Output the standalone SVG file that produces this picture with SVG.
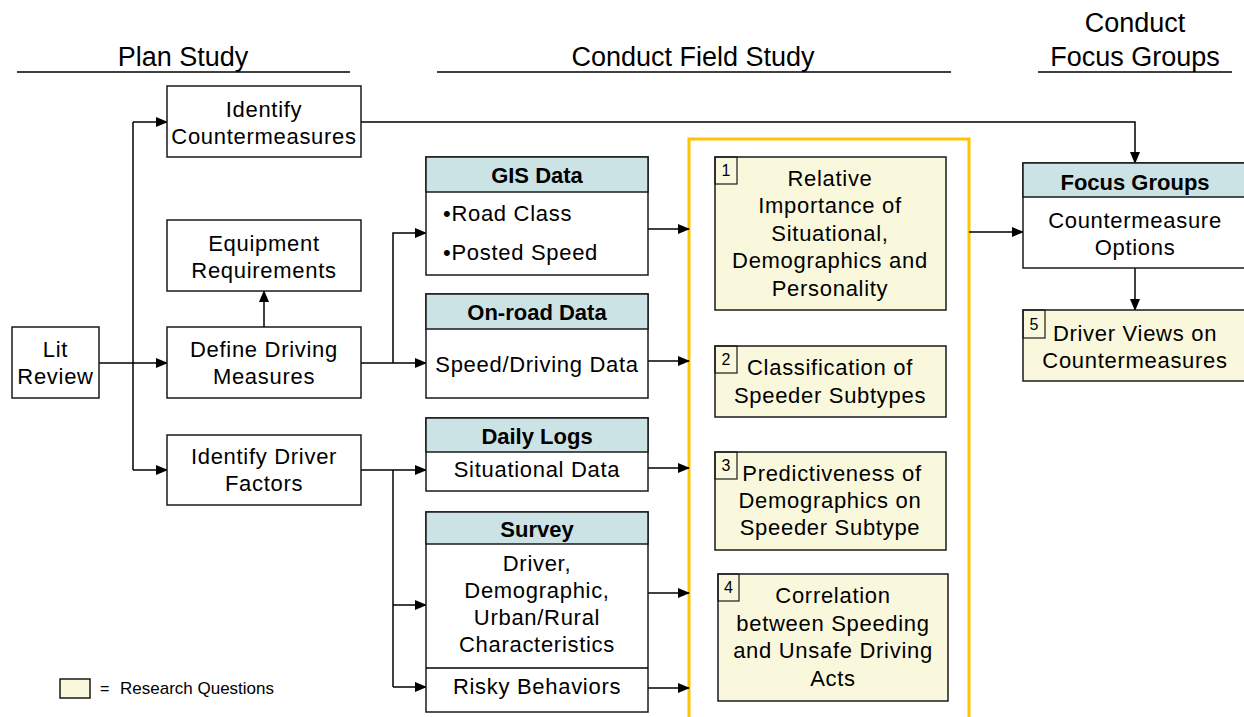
<svg xmlns="http://www.w3.org/2000/svg" width="1244" height="717" viewBox="0 0 1244 717">
  <style>
    text { font-family: "Liberation Sans", Arial, sans-serif; fill: #000; }
    .t { font-size: 22px; text-anchor: middle; letter-spacing: 0.7px; }
    .tl { font-size: 22px; letter-spacing: 0.7px; }
    .h { font-size: 22px; font-weight: bold; text-anchor: middle; }
    .title { font-size: 27px; text-anchor: middle; }
    .num { font-size: 16px; text-anchor: middle; }
    .box { fill: #fff; stroke: #1a1a1a; stroke-width: 1.5; }
    .hdr { fill: #CCE3E6; stroke: #1a1a1a; stroke-width: 1.5; }
    .rq { fill: #FAF8DC; stroke: #1a1a1a; stroke-width: 1.5; }
    .nb { fill: none; stroke: #1a1a1a; stroke-width: 1.2; }
    .rule { stroke: #000; stroke-width: 1.5; }
    .c { fill: none; stroke: #000; stroke-width: 1.5; }
    .ca { fill: none; stroke: #000; stroke-width: 1.5; marker-end: url(#arr); }
  </style>
  <defs>
    <marker id="arr" markerUnits="userSpaceOnUse" markerWidth="12" markerHeight="10" refX="11" refY="5" orient="auto">
      <path d="M0,0 L12,5 L0,10 Z" fill="#000"/>
    </marker>
  </defs>
  <rect width="1244" height="717" fill="#fff"/>

  <!-- phase headings -->
  <g id="headings">
    <text class="title" x="183" y="66">Plan Study</text>
    <line class="rule" x1="17" y1="72" x2="350" y2="72"/>
    <text class="title" x="693" y="66">Conduct Field Study</text>
    <line class="rule" x1="437" y1="72" x2="951" y2="72"/>
    <text class="title" x="1135" y="32">Conduct</text>
    <text class="title" x="1135" y="66">Focus Groups</text>
    <line class="rule" x1="1038" y1="72" x2="1232" y2="72"/>
  </g>

  <!-- research question frame -->
  <rect id="rq-frame" x="689" y="139" width="280" height="600" fill="none" stroke="#FFC400" stroke-width="3"/>

  <!-- connectors -->
  <g id="connectors">
    <line class="ca" x1="99" y1="363" x2="167" y2="363"/>
    <path class="c" d="M133,122 V470"/>
    <line class="ca" x1="133" y1="122" x2="167" y2="122"/>
    <line class="ca" x1="133" y1="470" x2="167" y2="470"/>
    <line class="ca" x1="264" y1="327" x2="264" y2="291"/>
    <line class="ca" x1="361" y1="363" x2="426" y2="363"/>
    <path class="ca" d="M393,363 V233 H426"/>
    <line class="ca" x1="361" y1="470" x2="426" y2="470"/>
    <path class="c" d="M393,470 V687"/>
    <line class="ca" x1="393" y1="605" x2="426" y2="605"/>
    <line class="ca" x1="393" y1="687" x2="426" y2="687"/>
    <line class="ca" x1="648" y1="229" x2="689" y2="229"/>
    <line class="ca" x1="648" y1="361" x2="689" y2="361"/>
    <line class="ca" x1="648" y1="468" x2="689" y2="468"/>
    <line class="ca" x1="648" y1="593" x2="689" y2="593"/>
    <line class="ca" x1="648" y1="688" x2="689" y2="688"/>
    <line class="ca" x1="969" y1="232" x2="1023" y2="232"/>
    <path class="ca" d="M361,122 H1135 V163"/>
    <line class="ca" x1="1135" y1="268" x2="1135" y2="310"/>
  </g>

  <!-- plan study nodes -->
  <g id="lit-review">
    <rect class="box" x="12" y="327" width="87" height="71"/>
    <text class="t" x="55.5" y="357">Lit</text>
    <text class="t" x="55.5" y="384">Review</text>
  </g>
  <g id="identify-countermeasures">
    <rect class="box" x="167" y="86" width="194" height="71"/>
    <text class="t" x="264" y="117">Identify</text>
    <text class="t" x="264" y="144">Countermeasures</text>
  </g>
  <g id="equipment-requirements">
    <rect class="box" x="167" y="220" width="194" height="71"/>
    <text class="t" x="264" y="251">Equipment</text>
    <text class="t" x="264" y="278">Requirements</text>
  </g>
  <g id="define-driving-measures">
    <rect class="box" x="167" y="327" width="194" height="71"/>
    <text class="t" x="264" y="357">Define Driving</text>
    <text class="t" x="264" y="384">Measures</text>
  </g>
  <g id="identify-driver-factors">
    <rect class="box" x="167" y="435" width="194" height="70"/>
    <text class="t" x="264" y="464">Identify Driver</text>
    <text class="t" x="264" y="491">Factors</text>
  </g>

  <!-- field study data sources -->
  <g id="gis-data">
    <rect class="box" x="426" y="157" width="222" height="118"/>
    <rect class="hdr" x="426" y="157" width="222" height="35"/>
    <text class="h" x="537" y="183">GIS Data</text>
    <text class="tl" x="443" y="221">•Road Class</text>
    <text class="tl" x="443" y="260">•Posted Speed</text>
  </g>
  <g id="on-road-data">
    <rect class="box" x="426" y="294" width="222" height="104"/>
    <rect class="hdr" x="426" y="294" width="222" height="35"/>
    <text class="h" x="537" y="320">On-road Data</text>
    <text class="t" x="537" y="372">Speed/Driving Data</text>
  </g>
  <g id="daily-logs">
    <rect class="box" x="426" y="418" width="222" height="73"/>
    <rect class="hdr" x="426" y="418" width="222" height="34"/>
    <text class="h" x="537" y="444">Daily Logs</text>
    <text class="t" x="537" y="477">Situational Data</text>
  </g>
  <g id="survey">
    <rect class="box" x="426" y="512" width="222" height="200"/>
    <rect class="hdr" x="426" y="512" width="222" height="32"/>
    <text class="h" x="537" y="537">Survey</text>
    <text class="t" x="537" y="571">Driver,</text>
    <text class="t" x="537" y="598">Demographic,</text>
    <text class="t" x="537" y="625">Urban/Rural</text>
    <text class="t" x="537" y="652">Characteristics</text>
    <line class="c" x1="426" y1="668" x2="648" y2="668"/>
    <text class="t" x="537" y="694">Risky Behaviors</text>
  </g>

  <!-- research questions -->
  <g id="rq1">
    <rect class="rq" x="715" y="157" width="231" height="153"/>
    <rect class="nb" x="715" y="157" width="22" height="27"/>
    <text class="num" x="726" y="176">1</text>
    <text class="t" x="830" y="186">Relative</text>
    <text class="t" x="830" y="213">Importance of</text>
    <text class="t" x="830" y="241">Situational,</text>
    <text class="t" x="830" y="268">Demographics and</text>
    <text class="t" x="830" y="296">Personality</text>
  </g>
  <g id="rq2">
    <rect class="rq" x="715" y="346" width="231" height="71"/>
    <rect class="nb" x="715" y="346" width="22" height="27"/>
    <text class="num" x="726" y="365">2</text>
    <text class="t" x="830" y="375">Classification of</text>
    <text class="t" x="830" y="403">Speeder Subtypes</text>
  </g>
  <g id="rq3">
    <rect class="rq" x="715" y="452" width="231" height="98"/>
    <rect class="nb" x="715" y="452" width="22" height="27"/>
    <text class="num" x="726" y="471">3</text>
    <text class="t" x="832" y="481">Predictiveness of</text>
    <text class="t" x="830" y="508">Demographics on</text>
    <text class="t" x="830" y="535">Speeder Subtype</text>
  </g>
  <g id="rq4">
    <rect class="rq" x="718" y="574" width="230" height="127"/>
    <rect class="nb" x="718" y="574" width="21" height="27"/>
    <text class="num" x="728.5" y="593">4</text>
    <text class="t" x="833" y="603">Correlation</text>
    <text class="t" x="833" y="631">between Speeding</text>
    <text class="t" x="833" y="658">and Unsafe Driving</text>
    <text class="t" x="833" y="686">Acts</text>
  </g>

  <!-- focus group nodes -->
  <g id="focus-groups">
    <rect class="box" x="1023" y="163" width="240" height="105"/>
    <rect class="hdr" x="1023" y="163" width="240" height="34"/>
    <text class="h" x="1135" y="190">Focus Groups</text>
    <text class="t" x="1135" y="228">Countermeasure</text>
    <text class="t" x="1135" y="255">Options</text>
  </g>
  <g id="rq5">
    <rect class="rq" x="1023" y="310" width="240" height="71"/>
    <rect class="nb" x="1023" y="310" width="22" height="28"/>
    <text class="num" x="1034" y="330">5</text>
    <text class="t" x="1135" y="341">Driver Views on</text>
    <text class="t" x="1135" y="368">Countermeasures</text>
  </g>

  <!-- legend -->
  <g id="legend">
    <rect class="rq" x="60" y="679" width="30" height="19"/>
    <text x="100" y="694" font-size="16">=</text>
    <text x="120" y="694" font-size="17">Research Questions</text>
  </g>
</svg>
